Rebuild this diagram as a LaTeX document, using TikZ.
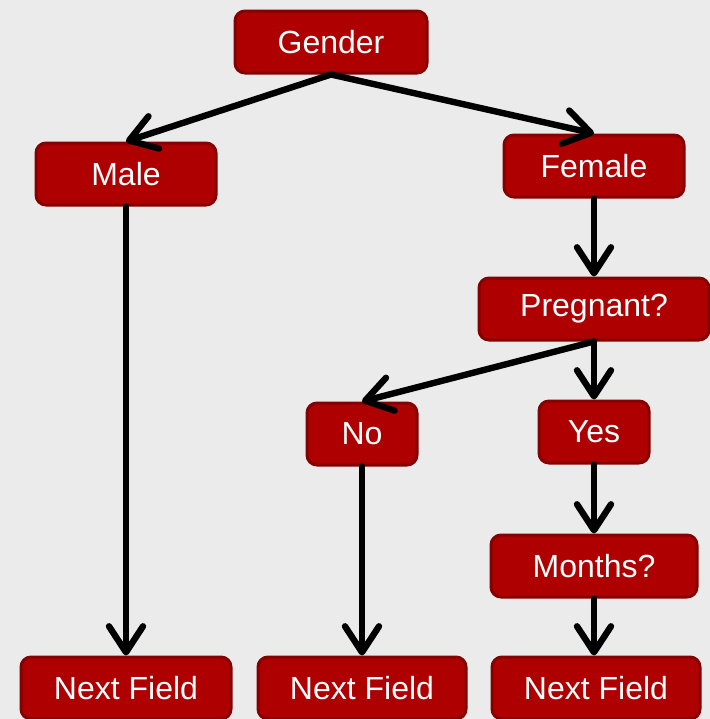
\documentclass[tikz,border=0pt]{standalone}
\usepackage{fontspec}
\setmainfont{Liberation Sans}
\usetikzlibrary{arrows.meta}
\definecolor{boxred}{HTML}{AE0000}
\definecolor{boxedge}{HTML}{860000}
\definecolor{paper}{HTML}{EBEBEB}
\tikzset{
  box/.style={draw=boxedge,line width=1.5pt,fill=boxred,rounded corners=5pt,
    text=white,font=\fontsize{16}{18}\selectfont,minimum height=31pt,inner sep=0pt},
  flow/.style={line width=3.2pt,line cap=round,line join=round,
    -{Straight Barb[length=13pt,width=17pt,line cap=round,line join=round]}}
}
\begin{document}
\begin{tikzpicture}[x=0.5pt,y=-0.5pt]
  \fill[paper] (0,0) rectangle (710,719);
  \useasboundingbox (0,0) rectangle (710,719);
  \clip (0,0) rectangle (710,719);
  % boxes
  \node[box,minimum width=96pt] (gender) at (331,42) {Gender};
  \node[box,minimum width=90pt] (male) at (126,174) {Male};
  \node[box,minimum width=90pt] (female) at (594,166) {Female};
  \node[box,minimum width=115pt] (pregnant) at (594,309) {Pregnant?};
  \node[box,minimum width=55pt] (no) at (362,434) {No};
  \node[box,minimum width=55pt] (yes) at (594,432) {Yes};
  \node[box,minimum width=103pt] (months) at (594,566) {Months?};
  \node[box,minimum width=105pt] (next1) at (126,688) {Next Field};
  \node[box,minimum width=104pt] (next2) at (362,688) {Next Field};
  \node[box,minimum width=104pt] (next3) at (596,688) {Next Field};
  % arrows
  \draw[flow] (gender.south) -- (male.north);
  \draw[flow] (gender.south) -- (female.north);
  \draw[flow] (male.south) -- (next1.north);
  \draw[flow] (female.south) -- (pregnant.north);
  \draw[flow] (pregnant.south) -- (no.north);
  \draw[flow] (pregnant.south) -- (yes.north);
  \draw[flow] (no.south) -- (next2.north);
  \draw[flow] (yes.south) -- (months.north);
  \draw[flow] (months.south) -- (next3.north -| months.south);
\end{tikzpicture}
\end{document}
